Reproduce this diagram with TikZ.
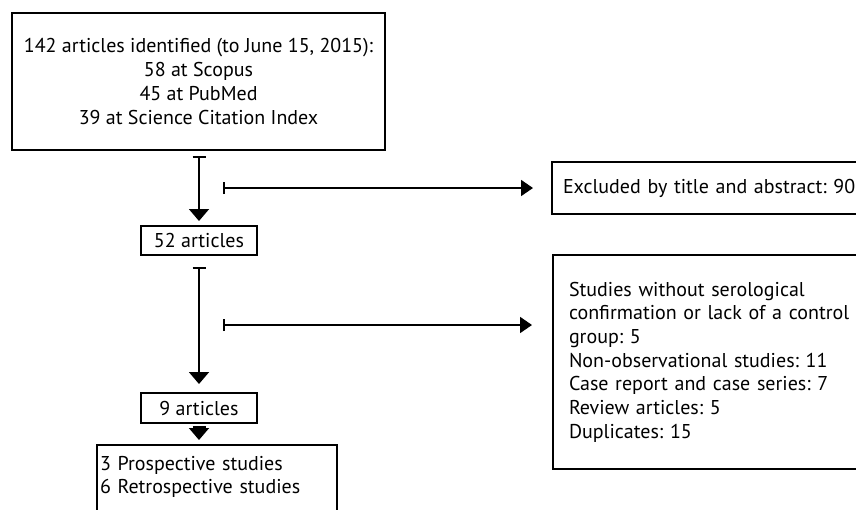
\documentclass[tikz,border=0pt]{standalone}
\usepackage{fontspec}
\setmainfont{PT Sans}
\usetikzlibrary{arrows.meta}
\tikzset{
  box/.style={draw, line width=2pt, inner sep=0pt, font=\fontsize{20}{23.7}\selectfont\frenchspacing},
  flow/.style={line width=1.8pt, {Bar[width=13pt]}-{Triangle[width=20pt,length=12pt]}},
  side/.style={line width=1.8pt, {Bar[width=12pt]}-{Triangle[width=16pt,length=12pt]}},
}
\begin{document}
\begin{tikzpicture}[x=1pt,y=-1pt]
        \useasboundingbox (0,0) rectangle (856,509);
        \clip (0,0) rectangle (856,509);
        \node[box, minimum width=373pt, minimum height=137pt, align=center] (found) at (198.5,81.5)
             {142 articles identified (to June 15, 2015):\\58 at Scopus\\45 at PubMed\\39 at Science Citation Index}; %search
        \node[box, minimum width=116pt, minimum height=29pt] (a52) at (199,240.5) {52 articles};          %screened
        \node[box, minimum width=116pt, minimum height=30pt] (a9)  at (199,408)   {9 articles};           %included
        \node[box, anchor=north west, minimum width=240pt, inner xsep=3pt, inner ysep=11pt,
              text width=234pt, align=left] (types) at (96,444)
             {3 Prospective studies\\6 Retrospective studies\\\mbox{}};                                   %design
        \node[box, anchor=west, minimum width=330pt, minimum height=52pt, inner xsep=11pt,
              text width=308pt, align=left] (ex1) at (551,188)
             {Excluded by title and abstract: 90};                                                        %excl 1
        \node[box, anchor=north west, minimum width=330pt, minimum height=214pt, inner xsep=16pt,
              text width=298pt, align=left] (ex2) at (552,254)
             {Studies without serological\\confirmation or lack of a control\\group: 5\\
              Non-observational studies: 11\\Case report and case series: 7\\Review articles: 5\\
              Duplicates: 15};                                                                            %excl 2
        \coordinate (s1) at (223,188);
        \coordinate (s2) at (223,325);
        \draw [flow, shorten <=5pt, shorten >=4pt]  (found.south -| a52.north) -- (a52.north);            %
        \draw [side, shorten >=18pt]                (s1) -- (s1 -| ex1.west);                             %
        \draw [flow, shorten <=11pt, shorten >=8pt] (a52.south) -- (a9.north);                            %
        \draw [side, shorten >=20pt]                (s2) -- (s2 -| ex2.west);                             %
        \draw [flow, shorten <=2pt, shorten >=4pt]  (a9.south) -- (a9.south |- types.north);              %
\end{tikzpicture}
\end{document}
